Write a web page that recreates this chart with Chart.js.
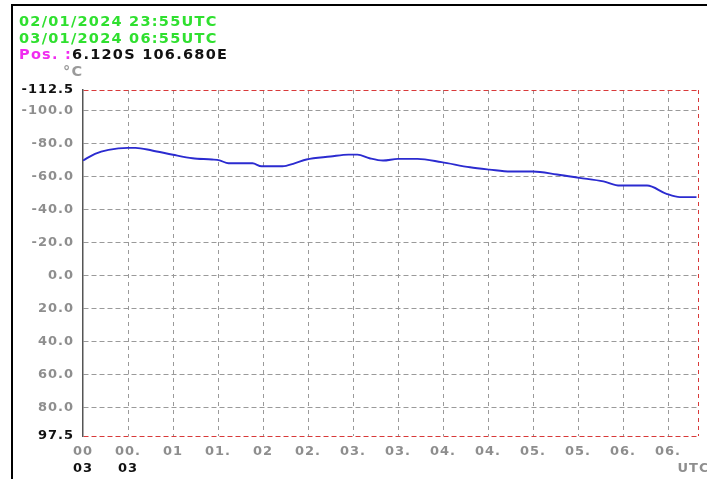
<!DOCTYPE html>
<html>
<head>
<meta charset="utf-8">
<script src="https://cdn.jsdelivr.net/npm/chart.js@4/dist/chart.umd.min.js"></script>
<style>
  html, body { margin: 0; padding: 0; background: #fff; }
  #wrap { position: relative; width: 707px; height: 479px; overflow: hidden; background: #fff; }
  #frame { position: absolute; left: 11px; top: 4px; width: 720px; height: 500px;
           border-top: 2px solid #000; border-left: 2px solid #000; }
  canvas { position: absolute; left: 0; top: 0; }
  .hdr { position: absolute; left: 19px; font: bold 14.5px 'DejaVu Sans', Verdana, sans-serif;
         letter-spacing: 1.25px; line-height: 17px; white-space: nowrap; }
  .green { color: #2fe02f; }
  .mag { color: #f02cf0; }
  .blk { color: #111; }
  .unit { color: #9a9a9a; }
</style>
</head>
<body>
<div id="wrap">
  <div id="frame"></div>
  <canvas id="c" width="707" height="479"></canvas>
  <div class="hdr green" style="top:13px">02/01/2024 23:55UTC</div>
  <div class="hdr green" style="top:30px">03/01/2024 06:55UTC</div>
  <div class="hdr" style="top:46px"><span class="mag">Pos. :</span><span class="blk">6.120S 106.680E</span></div>
  <div class="hdr unit" style="top:63px; left:63px">°C</div>
</div>
<script>
// Minutes after the start of the window (23:55 UTC) and temperature in °C
const sampleMinutes = [0, 8, 17, 30, 35, 46, 60, 73, 86, 91, 97, 113, 119, 133, 141, 149,
  165, 177, 183, 191, 200, 210, 223, 239, 258, 271, 285, 300, 316, 331, 347, 358,
  376, 389, 398, 409];
const temperatures = [-69.7, -73.8, -76.2, -77.4, -77.4, -75.8, -73.2, -71.1, -70.3, -69.8,
  -68.0, -68.0, -66.2, -66.2, -68.0, -70.3, -72.1, -73.3, -73.3, -71.1, -69.7, -70.7,
  -70.7, -68.7, -65.6, -64.2, -63.0, -63.0, -61.2, -59.2, -57.0, -54.5, -54.5, -49.5,
  -47.5, -47.5];

// Temperature axis (drawn inverted: cold at the top)
const yTicks = [-112.5, -100, -80, -60, -40, -20, 0, 20, 40, 60, 80, 97.5];
const yMin = -112.5, yMax = 97.5;

// Time axis: half-hour grid, first row of labels
const xTickMinutes = [0, 30, 60, 90, 120, 150, 180, 210, 240, 270, 300, 330, 360, 390];
const xTickLabels = ['00', '00.', '01', '01.', '02', '02.', '03.', '03.', '04.', '04.', '05.', '05.', '06.', '06.'];
const xEnd = 410;
// Second row of labels
const dayTickMinutes = [0, 30, 407];
const dayTickLabels = ['03', '03', 'UTC'];

const FONT = { family: "'DejaVu Sans', Verdana, sans-serif", size: 13, weight: 'bold' };
const GREY_TXT = '#8e8e8e';
const GRID = '#9a9a9a';
const EDGE = '#d83a3a';

const spacingPlugin = {
  id: 'spacing',
  beforeDraw(chart) { chart.ctx.letterSpacing = '1px'; },
  afterDraw(chart) { chart.ctx.letterSpacing = '0px'; }
};

new Chart(document.getElementById('c'), {
  type: 'line',
  data: {
    datasets: [{
      data: sampleMinutes.map((m, i) => ({ x: m, y: temperatures[i] })),
      borderColor: '#2b2bd0',
      borderWidth: 1.9,
      pointRadius: 0,
      fill: false,
      cubicInterpolationMode: 'monotone'
    }]
  },
  options: {
    responsive: false,
    animation: false,
    devicePixelRatio: 1,
    layout: { padding: { top: 90, right: 9, bottom: 0, left: 0 } },
    plugins: { legend: { display: false }, tooltip: { enabled: false } },
    scales: {
      x: {
        type: 'linear',
        position: 'bottom',
        min: 0, max: xEnd,
        afterBuildTicks: s => { s.ticks = xTickMinutes.concat([xEnd]).map(v => ({ value: v })); },
        afterFit: s => { s.height = 22; s.paddingLeft = 0; s.paddingRight = 0; },
        ticks: {
          autoSkip: false, maxRotation: 0, minRotation: 0, padding: 8,
          font: FONT, color: GREY_TXT,
          callback: (v, i) => (i < xTickLabels.length ? xTickLabels[i] : '')
        },
        grid: {
          drawTicks: false,
          lineWidth: 1,
          color: c => (c.tick && c.tick.value === xEnd ? EDGE : (c.tick && c.tick.value === 0 ? 'rgba(0,0,0,0)' : GRID))
        },
        border: { display: false, dash: [4, 4] }
      },
      x2: {
        type: 'linear',
        position: 'bottom',
        min: 0, max: xEnd,
        afterBuildTicks: s => { s.ticks = dayTickMinutes.map(v => ({ value: v })); },
        afterFit: s => { s.height = 21; s.paddingLeft = 0; s.paddingRight = 0; },
        ticks: {
          autoSkip: false, maxRotation: 0, minRotation: 0, padding: 3,
          font: FONT,
          color: c => (dayTickLabels[c.index] === 'UTC' ? GREY_TXT : '#111'),
          callback: (v, i) => dayTickLabels[i]
        },
        grid: { display: false, drawTicks: false },
        border: { display: false }
      },
      y: {
        type: 'linear',
        reverse: true,
        min: yMin, max: yMax,
        afterBuildTicks: s => { s.ticks = yTicks.map(v => ({ value: v })); },
        afterFit: s => { s.width = 83; s.paddingTop = 0; s.paddingBottom = 0; },
        ticks: {
          padding: 9,
          font: FONT,
          color: c => (c.tick.value === yMin || c.tick.value === yMax ? '#111' : GREY_TXT),
          callback: v => Number(v).toFixed(1)
        },
        grid: {
          drawTicks: false,
          lineWidth: 1,
          color: c => (c.tick && (c.tick.value === yMin || c.tick.value === yMax) ? EDGE : GRID)
        },
        border: { display: true, color: '#555', width: 1.5, dash: [5, 3] }
      }
    }
  },
  plugins: [spacingPlugin]
});
</script>
</body>
</html>
